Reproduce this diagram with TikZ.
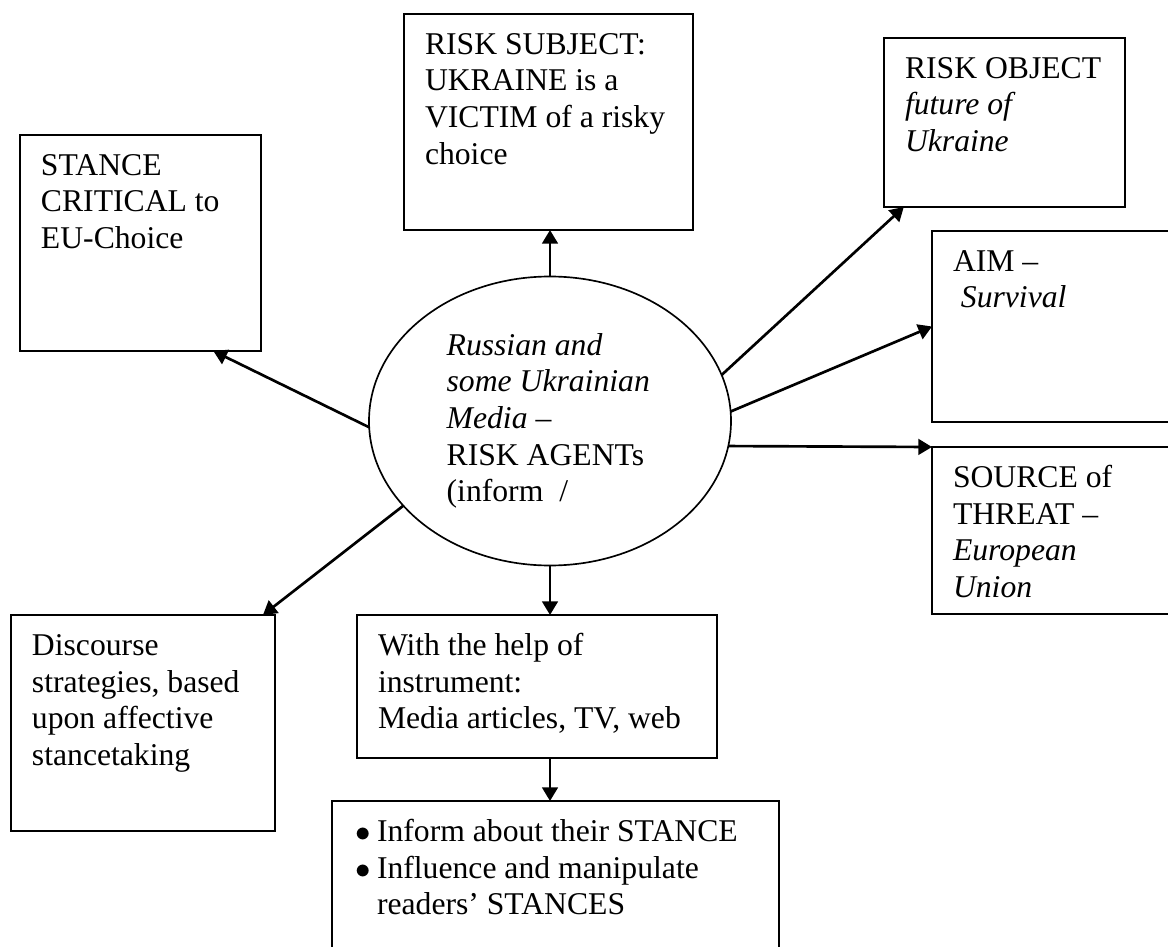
\documentclass[tikz,border=0pt]{standalone}
\usepackage{fontspec}
\setmainfont{Liberation Serif}
\usetikzlibrary{shapes.geometric,arrows.meta}
\newcommand{\boxtext}[3]{\parbox[t][#2][t]{#1}{\raggedright\strut #3}}
\newcommand{\bulletitem}{\makebox[6.6pt][l]{$\bullet$}}

\begin{document}
\begin{tikzpicture}[x=0.3pt,y=-0.3pt,
	box/.style={draw, line width=0.6pt, anchor=north west, inner xsep=6.3pt, inner ysep=4.4pt, outer sep=0pt, font=\fontsize{9.5}{11}\selectfont},
	agentshape/.style={draw, ellipse, line width=0.5pt, minimum width=108.6pt, minimum height=86.7pt, inner sep=0pt, outer sep=0pt, text width=62pt, align=flush left, font=\fontsize{9.5}{11}\selectfont},
	arr/.style={-{Triangle[length=4.1pt,width=4.7pt]}, line width=0.8pt}]
	\useasboundingbox (0,0) rectangle (1168,946);
	\clip (0,0) rectangle (1168,946);
	\node[box] (subject) at (404,14) {\boxtext{74.1pt}{56pt}{RISK SUBJECT:\\UKRAINE is a\\VICTIM of a risky\\choice}};
	\node[box] (object) at (884,38) {\boxtext{59.7pt}{41.9pt}{RISK OBJECT\\\textit{future of}\\\textit{Ukraine}}};
	\node[box] (stance) at (20,135) {\boxtext{59.7pt}{56pt}{STANCE\\CRITICAL to\\EU-Choice}};
	\node[box] (aim) at (932,231) {\boxtext{65.4pt}{48.5pt}{AIM --\\\hspace*{0.25em}\textit{Survival}}};
	\node[box] (source) at (932,447) {\boxtext{65.4pt}{41.3pt}{SOURCE of\\THREAT --\\\textit{European}\\\textit{Union}}};
	\node[box] (discourse) at (11,615) {\boxtext{66.6pt}{56pt}{Discourse\\strategies, based\\upon affective\\stancetaking}};
	\node[box] (help) at (357,615) {\boxtext{95.4pt}{34.1pt}{With the help of\\instrument:\\Media articles, TV, web}};
	\node[box, inner xsep=6.9pt] (bullets) at (332,801) {\boxtext{120.3pt}{45.2pt}{\bulletitem Inform about their STANCE\\\bulletitem Influence and manipulate\\\hspace*{6.6pt}readers’ STANCES}};
	\node[agentshape] (agent) at (550,421) {\textit{Russian and}\\\textit{some Ukrainian}\\\textit{Media --}\\RISK AGENTs\\(inform\ \ /};

	\draw[arr] (agent.north) -- (agent.north |- subject.south);
	\draw[arr] (agent.182.6) -- (stance.-56.1);
	\draw[arr] (agent.210.5) -- (discourse.42.2);
	\draw[arr] (agent.15.6) -- (object.220.9);
	\draw[arr] (agent.3.5) -- (aim.west);
	\draw[arr] (agent.-8.3) -- (source.north west);
	\draw[arr] (agent.south) -- (agent.south |- help.north);
	\draw[arr] (agent.south |- help.south) -- (agent.south |- bullets.north);
\end{tikzpicture}
\end{document}
